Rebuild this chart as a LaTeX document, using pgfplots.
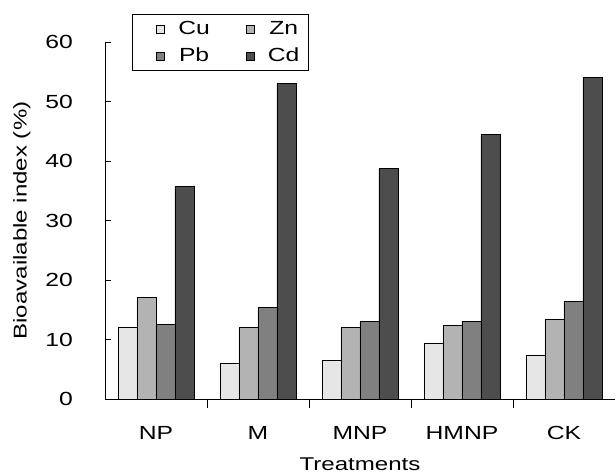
\documentclass[border=0pt]{standalone}
\usepackage{pgfplots}
\pgfplotsset{compat=1.18}
\usepackage{fontspec}
\setmainfont{Liberation Sans}[FakeStretch=1.3]
\definecolor{cCu}{HTML}{E6E6E6}
\definecolor{cZn}{HTML}{B3B3B3}
\definecolor{cPb}{HTML}{808080}
\definecolor{cCd}{HTML}{4D4D4D}
\begin{document}
\begin{tikzpicture}[x=1pt,y=1pt]
\begin{axis}[name=ax, at={(0,0)}, anchor=south west,
  scale only axis, width=510pt, height=357pt,
  ymin=0, ymax=60, xmin=-0.5, xmax=4.5,
  axis x line*=bottom, axis y line*=left,
  axis line style={-, black, line width=0.8pt},
  ytick={0,10,...,60},
  xtick={0,1,2,3,4},
  xticklabels={NP,M,MNP,HMNP,CK},
  minor xtick={0.5,1.5,2.5,3.5},
  major x tick style={draw=none},
  minor tick length=9pt,
  major tick length=6pt,
  tick align=inside,
  tick style={black, line width=0.8pt},
  /pgf/number format/assume math mode=true,
  tick label style={font=\fontsize{19}{21}\selectfont},
  yticklabel style={anchor=east, inner sep=0pt, xshift=-32pt},
  xticklabel style={anchor=base, inner sep=0pt, yshift=-34pt},
  xlabel={Treatments}, ylabel={Bioavailable index (\%)},
  label style={font=\fontsize{18.5}{20}\selectfont},
  xlabel style={at={(axis description cs:0.5,-0.1835)}, anchor=center, inner sep=0pt},
  ylabel style={at={(axis description cs:-0.163,0.5)}, anchor=center, rotate=0, inner sep=0pt},
  ybar=0pt, bar width=19pt,
  every axis plot/.append style={draw=black, line width=0.9pt},
  clip=false,
  legend columns=2,
  legend style={at={(rel axis cs:0.053,1.078)}, anchor=north west,
    draw=black, line width=0.6pt, font=\fontsize{19}{21}\selectfont,
    /tikz/every even column/.append style={column sep=17pt},
    row sep=8pt, inner xsep=7pt, inner ysep=5pt},
  legend image code/.code={\path[draw=none,fill=none] (0pt,0pt) -- (37pt,0pt);
    \draw[#1, line width=0.6pt] (17pt,-4pt) rectangle (25pt,4pt);},
]
\addplot[fill=cCu] coordinates {(0,12) (1,6) (2,6.5) (3,9.4) (4,7.4)};
\addplot[fill=cZn] coordinates {(0,17) (1,12) (2,12) (3,12.4) (4,13.4)};
\addplot[fill=cPb] coordinates {(0,12.5) (1,15.4) (2,13) (3,13) (4,16.4)};
\addplot[fill=cCd] coordinates {(0,35.7) (1,53) (2,38.7) (3,44.5) (4,54)};
\legend{Cu,Zn,Pb,Cd}
\end{axis}
\pgfresetboundingbox
\path (-105pt,-76pt) rectangle (511pt,399pt);
\end{tikzpicture}
\end{document}
